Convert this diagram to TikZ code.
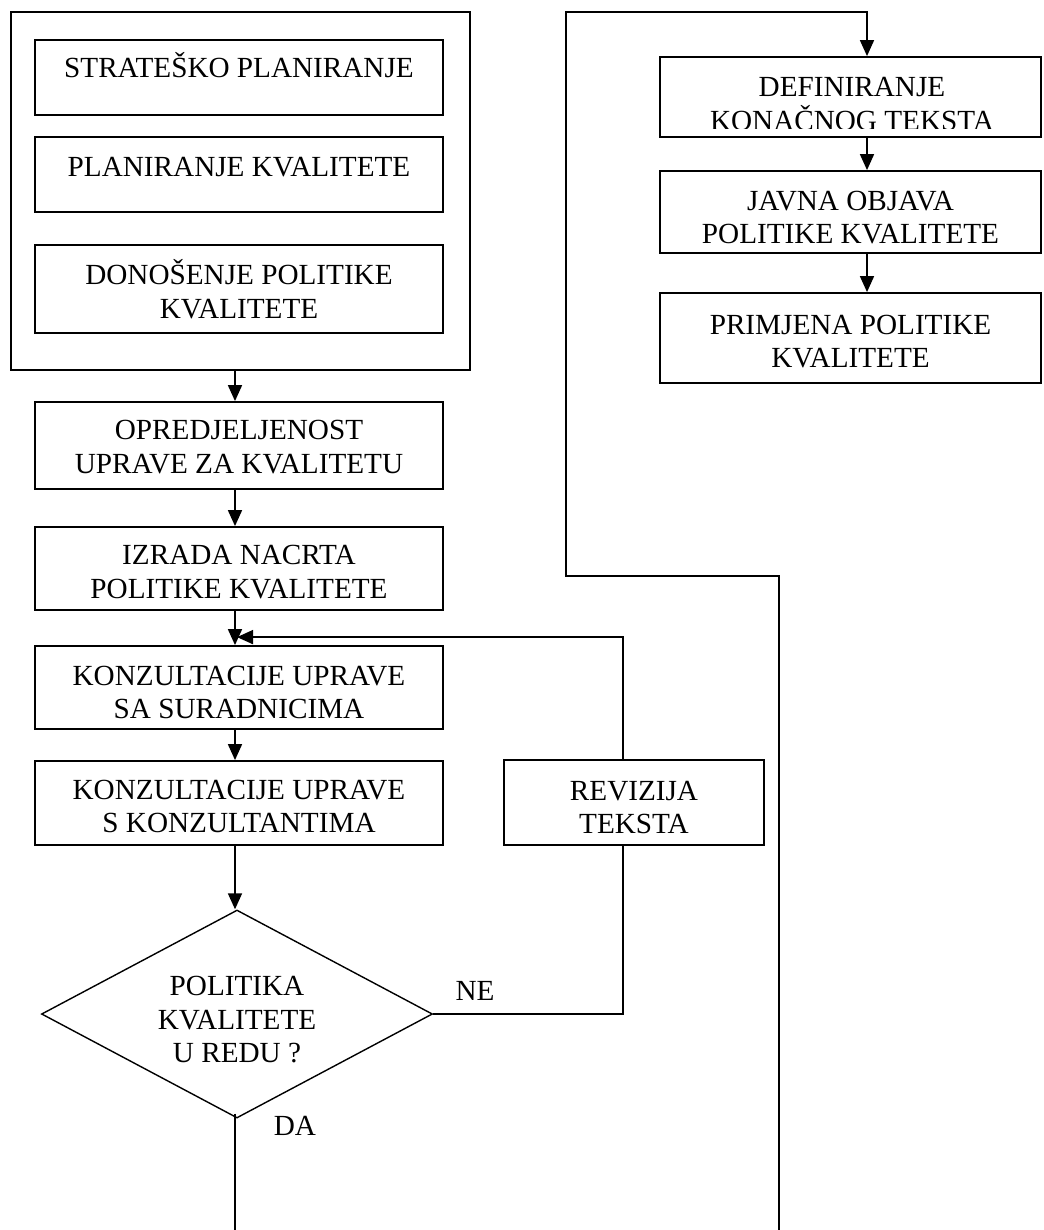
\documentclass[tikz,border=0pt]{standalone}
\usepackage{fontspec}
\setmainfont{Liberation Serif}
\usetikzlibrary{shapes.geometric,arrows.meta}
\newcommand\lowstrut[1]{\rule{0pt}{#1}}
\begin{document}
\begin{tikzpicture}[x=1pt,y=-1pt,
  txt/.style={font=\fontsize{29.2}{33.5}\selectfont},
  box/.style={draw, rectangle, line width=1.8pt, inner sep=0pt, align=center, txt},
  arr/.style={line width=1.7pt, -{Triangle[length=16pt,width=14pt]}},
  ln/.style={line width=1.6pt},
  lbl/.style={inner sep=0pt, txt}]
\useasboundingbox (0,0) rectangle (1043,1230);

% left group
\node[box, minimum width=459pt, minimum height=358pt] (grp) at (240.5,191) {};
\node[box, minimum width=408pt, minimum height=75pt, text height=20pt, text depth=20pt] (s1) at (239,77.5) {STRATEŠKO PLANIRANJE};
\node[box, minimum width=408pt, minimum height=75pt, text height=20pt, text depth=15.6pt] (s2) at (239,174.5) {PLANIRANJE KVALITETE};
\node[box, minimum width=408pt, minimum height=88pt] (s3) at (239,289) {DONOŠENJE POLITIKE\\KVALITETE};

% left column
\node[box, minimum width=408pt, minimum height=87pt] (opr) at (239,445.5) {\lowstrut{22pt}OPREDJELJENOST\\UPRAVE ZA KVALITETU};
\node[box, minimum width=408pt, minimum height=83pt] (izr) at (239,568.5) {\lowstrut{26pt}IZRADA NACRTA\\POLITIKE KVALITETE};
\node[box, minimum width=408pt, minimum height=83pt] (k1) at (239,687.5) {\lowstrut{29pt}KONZULTACIJE UPRAVE\\SA SURADNICIMA};
\node[box, minimum width=408pt, minimum height=84pt] (k2) at (239,803) {\lowstrut{26pt}KONZULTACIJE UPRAVE\\S KONZULTANTIMA};
\node[box, minimum width=260pt, minimum height=85pt] (rev) at (634,802.5) {\lowstrut{29pt}REVIZIJA\\TEKSTA};
\node[draw, diamond, aspect=1.88, inner sep=0pt, minimum width=391pt, minimum height=208pt, line width=1.4pt, align=center, txt] (dia) at (237,1014) {\lowstrut{30.5pt}POLITIKA\\KVALITETE\\U REDU ?};

% right column
\node[box, minimum width=381pt, minimum height=80pt] (def) at (850.5,97) {};
\begin{scope}
  \clip ([xshift=2pt]def.north west) rectangle ([yshift=9pt,xshift=-2pt]def.south east);
  \node[lbl, align=center] (deft) at (852,104) {DEFINIRANJE\\KONAČNOG TEKSTA};
\end{scope}
\node[box, minimum width=381pt, minimum height=82pt] (jav) at (850.5,212) {\lowstrut{30pt}JAVNA OBJAVA\\POLITIKE KVALITETE};
\node[box, minimum width=381pt, minimum height=90pt] (pri) at (850.5,338) {\lowstrut{26pt}PRIMJENA POLITIKE\\KVALITETE};

% labels
\node[lbl] (ne) at (475,991) {NE};
\node[lbl] (da) at (295,1126) {DA};

% free ends and bends
\coordinate (daend) at (235,1230);
\coordinate (rb) at (779,1230);
\coordinate (rm) at (566,576);
\coordinate (rt) at (566,12);
\coordinate (fb) at ([xshift=-2pt,yshift=8pt]k1.north);

% connectors
\draw[arr] ([xshift=-4pt]opr.north |- grp.south) -- ([xshift=-4pt]opr.north);
\draw[arr] ([xshift=-4pt]opr.south) -- ([xshift=-4pt]izr.north);
\draw[arr] ([xshift=-4pt]izr.south) -- ([xshift=-4pt]k1.north);
\draw[arr] ([xshift=-4pt]k1.south) -- ([xshift=-4pt]k2.north);
\draw[arr] ([xshift=-4pt]k2.south) -- ([xshift=-2pt]dia.north);
\draw[ln] ([xshift=-2pt,yshift=5pt]dia.south) -- (daend);
\draw[ln] (dia.east) -| ([xshift=-11pt]rev.south);
\draw[arr] ([xshift=-11pt]rev.north) |- (fb);
\draw[arr] (rb) |- (rm) -- (rt) -| ([xshift=16.5pt]def.north);
\draw[arr] ([xshift=16.5pt]def.south) -- ([xshift=16.5pt]jav.north);
\draw[arr] ([xshift=16.5pt]jav.south) -- ([xshift=16.5pt]pri.north);
\end{tikzpicture}
\end{document}
